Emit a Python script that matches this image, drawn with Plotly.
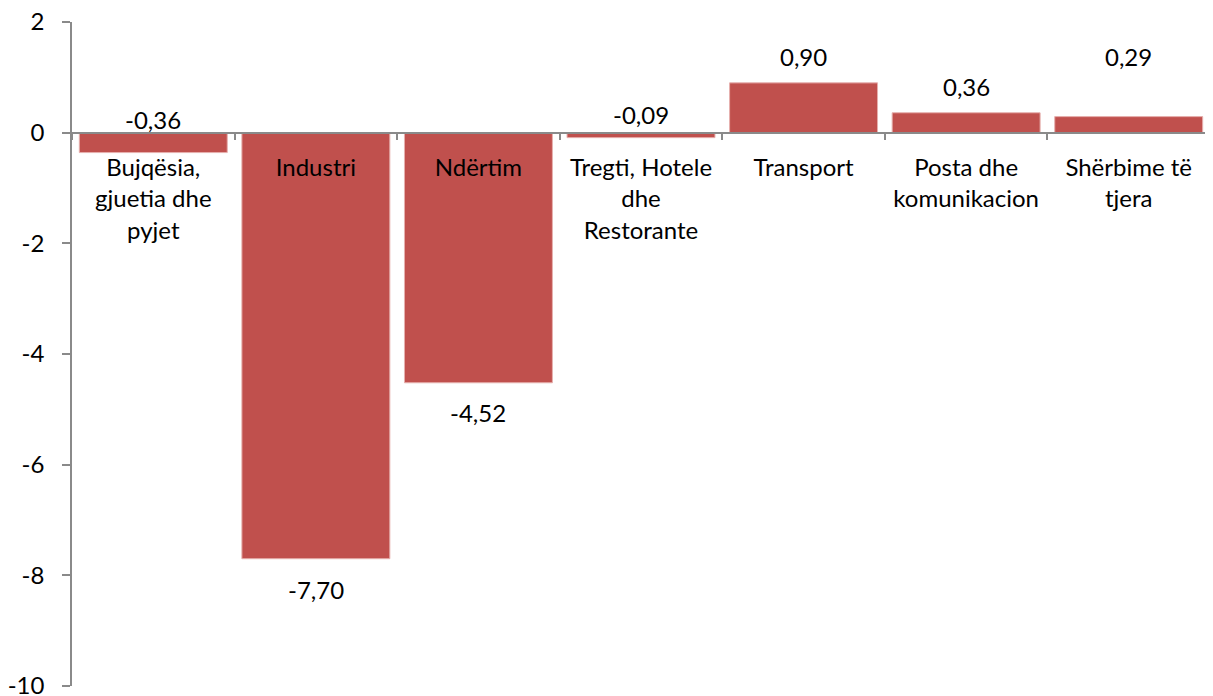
import plotly.graph_objects as go

categories = ["Bujqësia,<br>gjuetia dhe<br>pyjet", "Industri", "Ndërtim",
              "Tregti, Hotele<br>dhe<br>Restorante", "Transport",
              "Posta dhe<br>komunikacion", "Shërbime të<br>tjera"]
values = [-0.36, -7.70, -4.52, -0.09, 0.90, 0.36, 0.29]
value_labels = ["-0,36", "-7,70", "-4,52", "-0,09", "0,90", "0,36", "0,29"]
y_ticks = [2, 0, -2, -4, -6, -8, -10]

# pixel offsets of value labels relative to bar ends (style)
label_shift = [33, -31, -30, 23, 26, 26, 60]

FONT = "Lato"
FSIZE = 24
AXIS_COLOR = "#8a8a8a"

fig = go.Figure()
fig.add_trace(go.Bar(
    x=categories, y=values,
    marker=dict(color="#C0504D", line=dict(color="#E6B0AE", width=1)),
    hoverinfo="skip",
))

for cat, v, lab, sh in zip(categories, values, value_labels, label_shift):
    fig.add_annotation(x=cat, y=v, text=lab, showarrow=False,
                       yanchor="middle", yshift=sh,
                       font=dict(family=FONT, size=FSIZE, color="#000000"))

y_min, y_max = -10, 2
fig.update_layout(
    width=1205, height=700,
    margin=dict(l=64, r=3, t=14, b=22, autoexpand=False),
    paper_bgcolor="white", plot_bgcolor="white",
    bargap=0.09, showlegend=False,
    font=dict(family=FONT, size=FSIZE, color="#000000"),
    xaxis=dict(
        type="category", anchor="free", automargin=False,
        position=(0 - y_min) / (y_max - y_min),
        showline=True, linecolor=AXIS_COLOR, linewidth=1.5,
        ticks="outside", tickson="boundaries", ticklen=7,
        tickcolor=AXIS_COLOR, tickwidth=1.5,
        showgrid=False, zeroline=False,
        ticklabelstandoff=14, ticklabeloverflow="allow",
        tickfont=dict(family=FONT, size=FSIZE, color="#000000"),
        range=[-0.5, 6.5],
    ),
    yaxis=dict(
        range=[y_min, y_max], tickvals=y_ticks, automargin=False,
        ticktext=[str(t) for t in y_ticks],
        showline=True, linecolor=AXIS_COLOR, linewidth=1.5,
        ticks="outside", ticklen=8, tickcolor=AXIS_COLOR, tickwidth=1.5,
        showgrid=False, zeroline=False,
        ticklabelstandoff=13, ticklabeloverflow="allow",
        tickfont=dict(family=FONT, size=FSIZE, color="#000000"),
    ),
)

fig.write_html("out.html")
